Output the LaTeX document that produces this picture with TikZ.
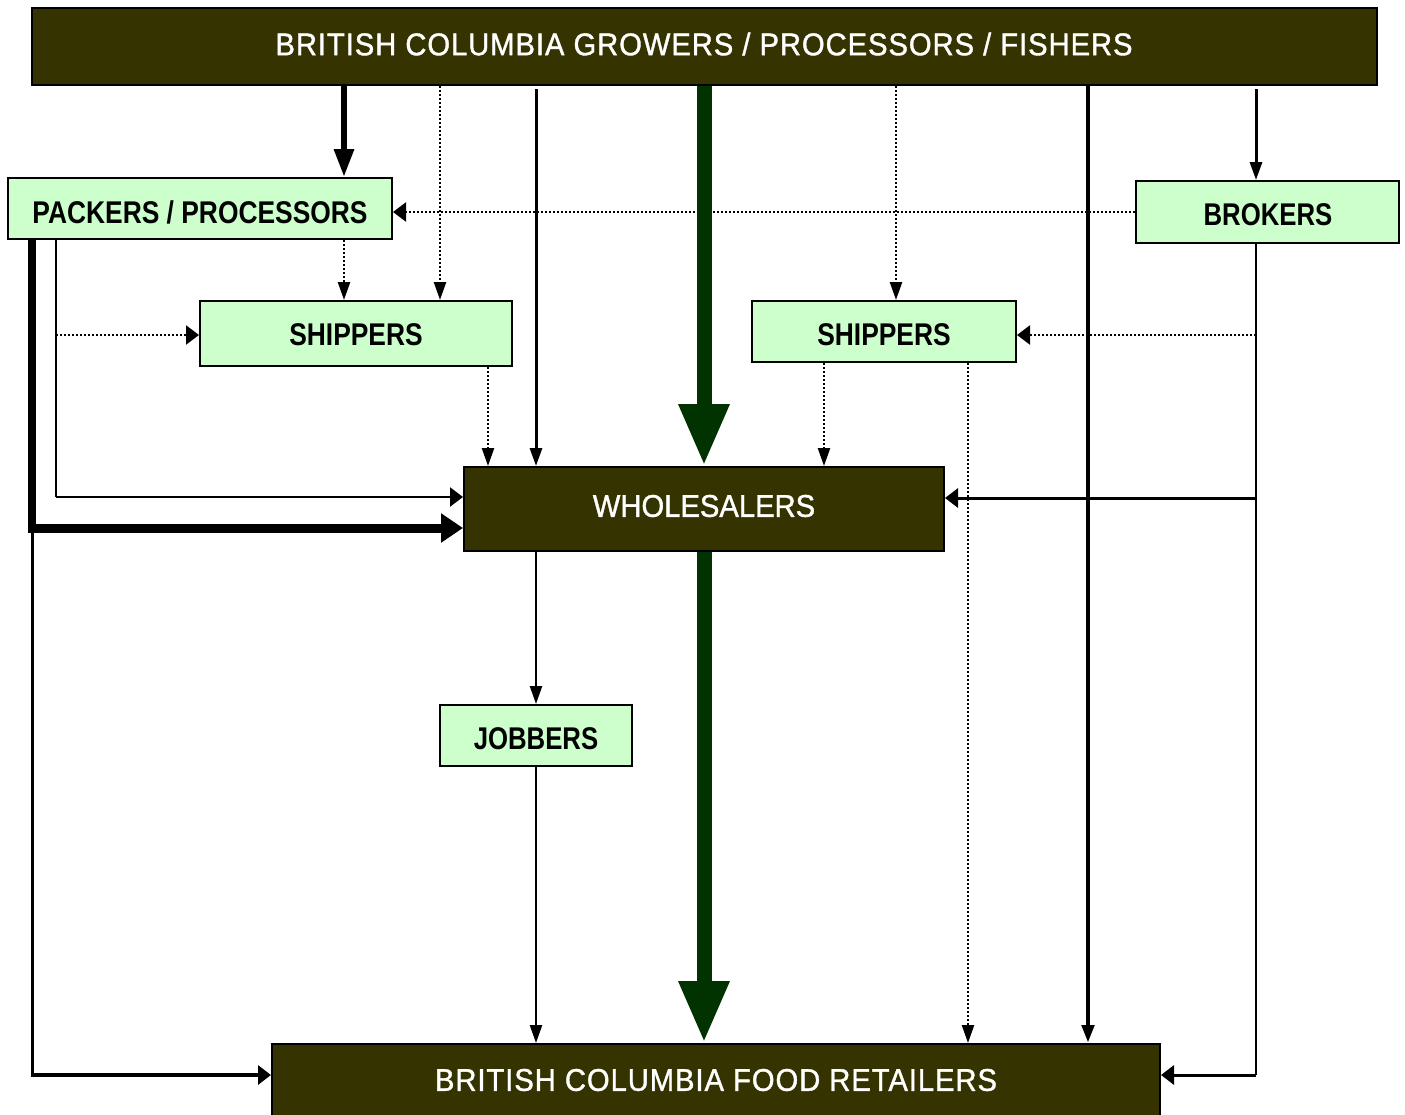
\documentclass[tikz,border=0pt]{standalone}
\usepackage{fontspec}
\setmainfont{Liberation Sans}
\newfontfamily\wfont[FakeStretch=0.93,FakeBold=1.2]{Liberation Sans}
\newfontfamily\wfontsp[FakeStretch=0.93,FakeBold=1.2,LetterSpace=3]{Liberation Sans}
\newfontfamily\bfont[FakeStretch=0.82]{Liberation Sans}
\newfontfamily\bfontw[FakeStretch=0.84]{Liberation Sans}
\usetikzlibrary{arrows.meta}
\definecolor{olivebox}{HTML}{353300}
\definecolor{paleg}{HTML}{CCFFCC}
\definecolor{darkg}{HTML}{003300}
\tikzset{
  darkbox/.style={draw=black, line width=1pt, fill=olivebox, text=white, inner sep=0pt,
    font=\wfont\fontsize{15.7}{18}\selectfont},
  palebox/.style={draw=black, line width=1pt, fill=paleg, text=black, inner sep=0pt,
    font=\bfont\bfseries\fontsize{15.7}{18}\selectfont},
  vtip/.style={-{Triangle[length=9pt,width=6pt]}},
  htip/.style={-{Triangle[length=6.5pt,width=9.5pt]}},
  thinln/.style={line width=1.25pt, draw=black},
  medln/.style={line width=1.5pt, draw=black},
  dotln/.style={line width=1.2pt, draw=black, dash pattern=on 0.9pt off 1.1pt},
  bigblk/.style={line width=3pt, draw=black, -{Triangle[length=14pt,width=9.5pt]}},
  greenarr/.style={line width=7.5pt, draw=darkg, -{Triangle[length=31pt,width=23.5pt]}},
}
\begin{document}
\begin{tikzpicture}[x=0.5pt,y=-0.5pt]
\useasboundingbox (0,0) rectangle (1405,1115);
\clip (0,0) rectangle (1405,1115);
\fill[white] (0,0) rectangle (1405,1115);

% nodes
\node[darkbox, minimum width=672.5pt, minimum height=38.5pt] (top) at (704.5,46.5) {};
\node[palebox, minimum width=192pt, minimum height=30.5pt] (packers) at (200,208.5) {};
\node[palebox, minimum width=131.5pt, minimum height=31pt] (brokers) at (1267.5,212) {};
\node[palebox, minimum width=156pt, minimum height=32.5pt] (shipL) at (356,333.5) {};
\node[palebox, minimum width=132pt, minimum height=30.5pt] (shipR) at (884,331.5) {};
\node[darkbox, minimum width=240pt, minimum height=42pt] (whole) at (704,509) {};
\node[palebox, minimum width=96pt, minimum height=30.5pt] (jobbers) at (536,735.5) {};
\node[darkbox, minimum width=444pt, minimum height=40.5pt] (retail) at (716,1084.5) {};

% column / row helper coordinates
\coordinate (cA) at (32,0);
\coordinate (cB) at (56,0);
\coordinate (cC) at (344,0);
\coordinate (cD) at (440,0);
\coordinate (cE) at (488,0);
\coordinate (cF) at (536,0);
\coordinate (cG) at (704,0);
\coordinate (cH) at (824,0);
\coordinate (cI) at (896,0);
\coordinate (cJ) at (968,0);
\coordinate (cK) at (1088,0);
\coordinate (cL) at (1256,0);
\coordinate (rP) at (0,212);
\coordinate (rS) at (0,335);
\coordinate (rW1) at (0,497);
\coordinate (rW2) at (0,528);
\coordinate (rWr) at (0,498);
\coordinate (rR) at (0,1075);
\coordinate (rTop) at (0,89);

% dotted connectors
\draw[dotln, htip] (brokers.west |- rP) -- (packers.east |- rP);
\draw[dotln, vtip] (top.south -| cD) -- (shipL.north -| cD);
\draw[dotln, vtip] (packers.south -| cC) -- (shipL.north -| cC);
\draw[dotln, vtip] (top.south -| cI) -- (shipR.north -| cI);
\draw[dotln, htip] (cB |- rS) -- (shipL.west |- rS);
\draw[dotln, htip] (cL |- rS) -- (shipR.east |- rS);
\draw[dotln, vtip] (shipL.south -| cE) -- (whole.north -| cE);
\draw[dotln, vtip] (shipR.south -| cH) -- (whole.north -| cH);
\draw[dotln, vtip] (shipR.south -| cJ) -- (retail.north -| cJ);

% solid connectors
\draw[medln, vtip] (cF |- rTop) -- (whole.north -| cF);
\draw[medln, vtip] (cL |- rTop) -- (brokers.north -| cL);
\draw[thinln] (brokers.south -| cL) -- (cL |- rR);
\draw[medln, htip] (cL |- rR) -- (retail.east |- rR);
\draw[medln, htip] (cL |- rWr) -- (whole.east |- rWr);
\draw[line width=2.4pt, vtip] (top.south -| cK) -- (retail.north -| cK);
\draw[thinln] (packers.south -| cB) -- (cB |- rW1);
\draw[thinln, htip] (cB |- rW1) -- (whole.west |- rW1);
\draw[line width=4pt] (packers.south -| cA) -- ([yshift=-1pt]cA |- rW2);
\draw[line width=4.5pt, -{Triangle[length=11pt,width=14pt]}] ([xshift=-2pt]cA |- rW2) -- (whole.west |- rW2);
\draw[medln] (cA |- rW2) -- (cA |- rR);
\draw[line width=2pt, htip] ([xshift=-0.75pt]cA |- rR) -- (retail.west |- rR);
\draw[thinln, vtip] (whole.south -| cF) -- (jobbers.north);
\draw[thinln, vtip] (jobbers.south) -- (retail.north -| cF);
\draw[bigblk] (top.south -| cC) -- (packers.north -| cC);
\draw[greenarr] (top.south -| cG) -- (whole.north -| cG);
\draw[greenarr] (whole.south -| cG) -- (retail.north -| cG);

% labels
\node[darkbox, draw=none, fill=none, font=\wfontsp\fontsize{15.7}{18}\selectfont] at (704,44) {BRITISH COLUMBIA GROWERS / PROCESSORS / FISHERS};
\node[palebox, draw=none, fill=none, font=\bfontw\bfseries\fontsize{15.7}{18}\selectfont] at (200,212) {PACKERS / PROCESSORS};
\node[palebox, draw=none, fill=none] at (1268,215) {BROKERS};
\node[palebox, draw=none, fill=none, font=\bfontw\bfseries\fontsize{15.7}{18}\selectfont] at (356,335) {SHIPPERS};
\node[palebox, draw=none, fill=none, font=\bfontw\bfseries\fontsize{15.7}{18}\selectfont] at (884,335) {SHIPPERS};
\node[darkbox, draw=none, fill=none] at (704,506) {WHOLESALERS};
\node[palebox, draw=none, fill=none] at (536,739) {JOBBERS};
\node[darkbox, draw=none, fill=none, font=\wfontsp\fontsize{15.7}{18}\selectfont] at (716,1080) {BRITISH COLUMBIA FOOD RETAILERS};
\end{tikzpicture}
\end{document}
